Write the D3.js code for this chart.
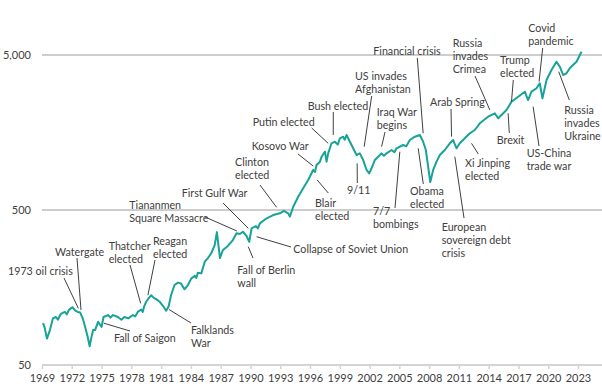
<!DOCTYPE html>
<meta charset="utf-8">
<head>
    <title>Index with world events</title>
</head>

<style>
    body { margin: 0; background: #ffffff; }
    .tick text { font-family: Lato, sans-serif; font-size: 11px; fill: #404040; }
    .note text { font-family: Lato, sans-serif; font-size: 10.7px; fill: #404040; }
    .note line { stroke: #404040; stroke-width: 1px; }
</style>

<script src="https://d3js.org/d3.v7.min.js"></script>

<div id="my_viz"></div>

<script>

    // index level, [year, value]
    var series = [
        [1969.1,93],[1969.27,87],[1969.5,74],[1969.8,84],[1970.1,100],[1970.4,102],[1970.6,98],[1970.9,107],
        [1971.3,110],[1971.5,106],[1971.7,113],[1972.05,118],[1972.35,112],[1972.6,110],[1972.85,109],[1973.1,100],[1973.35,88],
        [1973.6,76],[1973.8,66],[1973.95,74],[1974.15,84],[1974.35,84],[1974.65,95],[1975.0,88],[1975.2,102],
        [1975.65,105],[1975.9,101],[1976.15,105],[1976.65,102],[1977.0,98],[1977.3,102],[1977.7,100],[1978.15,105],[1978.4,103],[1978.65,110],
        [1979.0,114],[1979.15,110],[1979.3,120],[1979.5,128],[1979.75,135],[1980.0,141],[1980.3,135],[1980.5,133],[1980.85,128],
        [1981.2,120],[1981.5,112],[1981.75,119],[1982.0,141],[1982.35,164],[1982.7,170],[1983.0,168],[1983.35,154],
        [1983.7,164],[1984.05,181],[1984.4,188],[1984.55,182],[1984.7,197],[1985.05,195],[1985.4,232],[1985.7,244],[1986.05,263],
        [1986.4,297],[1986.62,360],[1986.93,245],[1987.23,276],[1987.73,293],[1988.23,320],[1988.6,354],[1988.94,350],
        [1989.24,362],[1989.6,340],[1989.88,312],[1990.12,381],[1990.55,394],[1990.75,380],[1990.95,410],[1991.63,442],[1992.29,464],
        [1992.97,476],[1993.37,493],[1993.8,476],[1993.97,453],[1994.31,525],[1994.81,609],[1995.31,690],[1995.82,781],
        [1996.32,906],[1996.5,880],[1996.66,976],[1997.0,1025],[1997.17,1104],[1997.5,1189],[1997.67,1025],[1997.83,1160],[1998.17,1347],
        [1998.51,1379],[1998.8,1320],[1999.01,1451],[1999.34,1486],[1999.5,1420],[1999.68,1524],[2000.02,1379],[2000.35,1250],[2000.69,1132],[2001.02,1160],
        [2001.36,1050],[2001.7,906],[2001.96,862],[2002.2,929],[2002.53,1050],[2002.87,1104],[2003.2,1160],[2003.45,1120],[2003.71,1160],
        [2004.22,1219],[2004.5,1180],[2004.72,1250],[2005.38,1313],[2005.7,1290],[2006.06,1414],[2006.56,1486],[2007.07,1524],[2007.4,1379],[2007.67,1219],
        [2007.9,951],[2008.12,758],[2008.41,906],[2008.75,1025],[2009.08,1132],[2009.58,1219],[2010.09,1347],[2010.42,1414],
        [2010.76,1250],[2011.09,1347],[2011.6,1451],[2012.1,1562],[2012.6,1641],[2013.11,1813],[2013.94,2000],[2014.62,2103],
        [2014.95,1952],[2015.29,2051],[2015.8,2209],[2016.3,2498],[2016.97,2691],[2017.64,2899],[2017.97,2562],[2018.32,2899],
        [2018.82,3049],[2019.15,3284],[2019.42,2627],[2019.83,3450],[2020.33,4001],[2020.83,4527],[2021.17,4202],[2021.5,3715],
        [2021.84,3810],[2022.17,4105],[2022.5,4310],[2022.85,4527],[2023.35,5250]
    ];

    var yearTicks = d3.range(1969, 2024, 3);
    var valueTicks = [50, 500, 5000];

    // event labels: text lines and the [year, value] the leader points at
    var events = [
        { text: ["1973 oil crisis"], at: [1972.66, 116] },
        { text: ["Watergate"], at: [1972.93, 113] },
        { text: ["Thatcher", "elected"], at: [1978.94, 125] },
        { text: ["Reagan", "elected"], at: [1979.67, 141] },
        { text: ["Fall of Saigon"], at: [1975.24, 93] },
        { text: ["Falklands", "War"], at: [1981.8, 114] },
        { text: ["Tiananmen", "Square Massacre"], at: [1988.64, 366] },
        { text: ["First Gulf War"], at: [1989.78, 381] },
        { text: ["Fall of Berlin", "wall"], at: [1989.78, 290] },
        { text: ["Collapse of Soviet Union"], at: [1990.62, 336] },
        { text: ["Clinton", "elected"], at: [1992.64, 520] },
        { text: ["Kosovo War"], at: [1996.32, 961] },
        { text: ["Putin elected"], at: [1997.83, 1347] },
        { text: ["Bush elected"], at: [1998.34, 1524] },
        { text: ["Blair", "elected"], at: [1996.72, 781] },
        { text: ["9/11"], at: [2000.75, 1000] },
        { text: ["US invades", "Afghanistan"], at: [2001.46, 1280] },
        { text: ["Iraq War", "begins"], at: [2003.21, 1280] },
        { text: ["7/7", "bombings"], at: [2005.05, 1189] },
        { text: ["Financial crisis"], at: [2007.4, 1562] },
        { text: ["Obama", "elected"], at: [2006.9, 1250] },
        { text: ["Arab Spring"], at: [2010.26, 1486] },
        { text: ["European", "sovereign debt", "crisis"], at: [2010.59, 1104] },
        { text: ["Xi Jinping", "elected"], at: [2012.27, 1347] },
        { text: ["Russia", "invades", "Crimea"], at: [2014.12, 2209] },
        { text: ["Trump", "elected"], at: [2016.3, 2498] },
        { text: ["Brexit"], at: [2015.96, 2103] },
        { text: ["Covid", "pandemic"], at: [2019.08, 3363] },
        { text: ["US-China", "trade war"], at: [2018.48, 2320] },
        { text: ["Russia", "invades", "Ukraine"], at: [2021.06, 3902] }
    ];

    // where each label sits (first line centre) and where its leader starts, in the same order
    var labelPos = [
        [8, 271, 64, 278], [55, 252, 77, 258], [108.7, 246, 130, 265], [153, 241, 155, 260],
        [114, 338, 130, 331], [191, 330, 191, 323], [129.3, 205, 205, 217], [181.7, 193, 223, 203],
        [237.3, 270, 253, 258], [293.3, 249, 291, 247], [235, 162, 260, 185], [251.7, 146, 298, 154],
        [252.7, 122, 311.7, 128], [307.7, 106, 333.3, 112], [315, 203, 328.3, 193], [347, 190, 357.3, 183],
        [355, 76, 371.7, 96], [376.7, 112, 385, 132], [373, 211, 395, 208], [373.3, 51, 417.3, 58],
        [410, 191, 423.3, 184], [430, 102, 451, 109], [441.7, 227, 464, 218], [465, 163, 478.3, 154],
        [452.7, 43, 475, 76], [500, 60, 513.3, 80], [496.7, 140, 509.3, 133], [528.3, 28, 542.7, 48],
        [526.7, 153, 539, 146], [564.3, 110, 569.3, 100]
    ];

    var width = 602, height = 389;
    var lineGap = 13.3;

    var svg = d3.select("#my_viz")
        .append("svg")
        .attr("width", width)
        .attr("height", height);

    var x = d3.scaleLinear().domain([1969, 2023]).range([42, 578]);
    var y = d3.scaleLog().domain([50, 5000]).range([365, 55]);

    // horizontal gridlines (50 is the axis line)
    svg.append("g")
        .selectAll("line")
        .data(valueTicks)
        .enter()
        .append("line")
        .attr("x1", 42)
        .attr("x2", width)
        .attr("y1", function (d) { return y(d); })
        .attr("y2", function (d) { return y(d); })
        .attr("stroke", function (d) { return d == 50 ? "#d4d4d4" : "#bdbdbd"; })
        .attr("stroke-width", function (d) { return d == 50 ? 2 : 1.5; });

    // y labels
    svg.append("g")
        .attr("transform", "translate(42,0)")
        .call(d3.axisLeft(y)
            .tickValues(valueTicks)
            .tickFormat(d3.format(","))
            .tickSize(0)
            .tickPadding(11))
        .call(function (g) { g.select(".domain").remove(); });

    // x axis
    svg.append("g")
        .attr("transform", "translate(0,365)")
        .call(d3.axisBottom(x)
            .tickValues(yearTicks)
            .tickFormat(d3.format("d"))
            .tickSize(4)
            .tickPadding(5))
        .call(function (g) {
            g.select(".domain").remove();
            g.selectAll(".tick line").attr("stroke", "#d4d4d4").attr("stroke-width", 1.5);
        });

    // the index line
    var line = d3.line()
        .x(function (d) { return x(d[0]); })
        .y(function (d) { return y(d[1]); });

    svg.append("path")
        .datum(series)
        .attr("d", line)
        .attr("fill", "none")
        .attr("stroke", "#17a397")
        .attr("stroke-width", 2)
        .attr("stroke-linejoin", "round");

    // event annotations
    var notes = svg.append("g").attr("class", "note");

    events.forEach(function (ev, i) {
        var p = labelPos[i];
        notes.append("line")
            .attr("x1", p[2])
            .attr("y1", p[3])
            .attr("x2", x(ev.at[0]))
            .attr("y2", y(ev.at[1]));

        var t = notes.append("text");
        ev.text.forEach(function (s, k) {
            t.append("tspan")
                .attr("x", p[0])
                .attr("y", p[1] + k * lineGap)
                .attr("dy", "0.36em")
                .text(s);
        });
    });

</script>
